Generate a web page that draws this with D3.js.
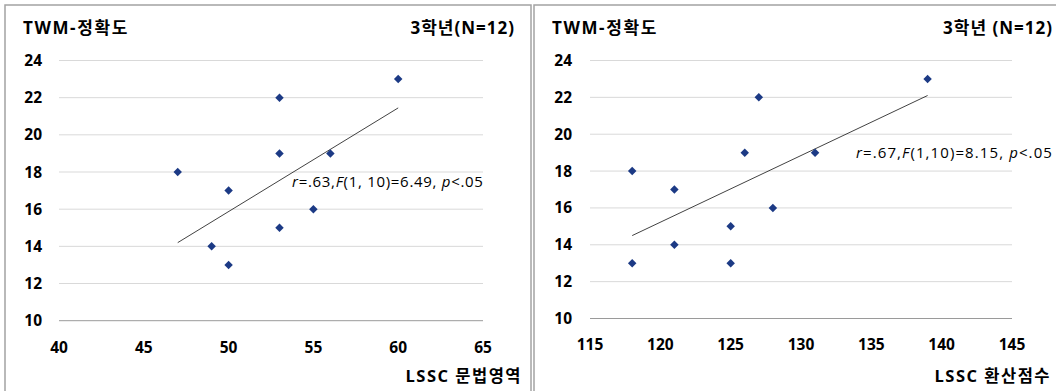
<!DOCTYPE html>
<html>
<head>
<meta charset="utf-8">
<script src="https://cdn.jsdelivr.net/npm/d3@7"></script>
<style>
  body { margin: 0; background: #fff; }
  svg { display: block; font-family: "Open Sans", "Noto Sans CJK KR", sans-serif; }
</style>
</head>
<body>
<div id="chart"></div>
<script>
// y axis (shared)
const yTicks = [10, 12, 14, 16, 18, 20, 22, 24];

// left panel: LSSC 문법영역
const grammarX = [47, 49, 50, 50, 53, 53, 53, 55, 56, 60];
const grammarY = [18, 14, 17, 13, 22, 19, 15, 16, 19, 23];
const grammarTicks = [40, 45, 50, 55, 60, 65];
const grammarTrend = [[47, 14.2], [60, 21.45]];

// right panel: LSSC 환산점수
const convX = [118, 121, 127, 126, 131, 139, 128, 125, 121, 118, 125];
const convY = [18, 17, 22, 19, 19, 23, 16, 15, 14, 13, 13];
const convTicks = [115, 120, 125, 130, 135, 140, 145];
const convTrend = [[118, 14.5], [139, 22.1]];

const width = 1056, height = 391;

const svg = d3.select("#chart")
  .append("svg")
  .attr("width", width)
  .attr("height", height);

const drawPanel = (p) => {
  const g = svg.append("g");

  // frame
  g.append("rect")
    .attr("x", p.frame[0])
    .attr("y", 5)
    .attr("width", p.frame[1] - p.frame[0])
    .attr("height", 420)
    .attr("fill", "none")
    .attr("stroke", "#a3a3a3")
    .attr("stroke-width", 1.5);

  const x = d3.scaleLinear().domain(d3.extent(p.ticks)).range(p.xRange);
  const y = d3.scaleLinear().domain([10, 24]).range(p.yRange);

  // grid
  g.selectAll(".grid")
    .data(yTicks)
    .enter()
    .append("line")
    .attr("x1", p.xRange[0])
    .attr("x2", p.xRange[1])
    .attr("y1", (d) => y(d))
    .attr("y2", (d) => y(d))
    .attr("stroke", (d) => (d === 10 ? "#9a9a9a" : "#d9d9d9"))
    .attr("stroke-width", 1);

  // y tick labels
  g.selectAll(".ylab")
    .data(yTicks)
    .enter()
    .append("text")
    .attr("x", p.yLabelX)
    .attr("y", (d) => y(d) + 5.5)
    .attr("text-anchor", "end")
    .style("font-size", "15.5px")
    .style("font-weight", "bold")
    .text((d) => d);

  // x tick labels
  g.selectAll(".xlab")
    .data(p.ticks)
    .enter()
    .append("text")
    .attr("x", (d) => x(d))
    .attr("y", p.xLabelY)
    .attr("text-anchor", "middle")
    .style("font-size", "15.5px")
    .style("font-weight", "bold")
    .text((d) => d);

  // trend line
  g.append("path")
    .datum(p.trend)
    .attr("d", d3.line().x((d) => x(d[0])).y((d) => y(d[1])))
    .attr("fill", "none")
    .attr("stroke", "#111")
    .attr("stroke-width", 0.8);

  // points
  const diamond = d3.symbol().type(d3.symbolSquare).size(36);
  g.selectAll(".pt")
    .data(p.xs.map((v, i) => [v, p.ys[i]]))
    .enter()
    .append("path")
    .attr("d", diamond)
    .attr("transform", (d) => `translate(${x(d[0])},${y(d[1])}) rotate(45)`)
    .attr("fill", "#1c3a85");

  // titles
  g.append("text")
    .attr("x", p.frame[0] + 18)
    .attr("y", 34)
    .style("font-size", "17px")
    .style("letter-spacing", "1.6px")
    .style("font-weight", "bold")
    .text("TWM-정확도");

  g.append("text")
    .attr("x", p.titleRightX)
    .attr("y", 34)
    .attr("text-anchor", "end")
    .style("font-size", "17px")
    .style("letter-spacing", "1px")
    .style("font-weight", "bold")
    .text(p.grade);

  g.append("text")
    .attr("x", p.titleRightX + p.axisTitleShift)
    .attr("y", 382)
    .attr("text-anchor", "end")
    .style("font-size", "16.5px")
    .style("letter-spacing", "1.5px")
    .style("font-weight", "bold")
    .text(p.xTitle);

  // stats annotation
  const t = g.append("text")
    .attr("x", p.statPos[0])
    .attr("y", p.statPos[1])
    .style("font-size", "15px")
    .style("letter-spacing", p.statSpacing);
  p.stat.forEach(([s, it]) => {
    t.append("tspan").style("font-style", it ? "italic" : "normal").text(s);
  });
};

drawPanel({
  frame: [5, 531],
  xs: grammarX, ys: grammarY, ticks: grammarTicks, trend: grammarTrend,
  xRange: [59, 483], yRange: [320.7, 60.5],
  yLabelX: 42, xLabelY: 353,
  titleRightX: 515, axisTitleShift: 7,
  grade: "3학년(N=12)",
  xTitle: "LSSC 문법영역",
  statPos: [292, 187], statSpacing: "0.7px",
  stat: [["r", 1], ["=.63,", 0], ["F", 1], ["(1, 10)=6.49, ", 0], ["p", 1], ["<.05", 0]]
});

drawPanel({
  frame: [534, 1070],
  xs: convX, ys: convY, ticks: convTicks, trend: convTrend,
  xRange: [590, 1012], yRange: [318.5, 60.5],
  yLabelX: 572, xLabelY: 350,
  titleRightX: 1053, axisTitleShift: -2,
  grade: "3학년 (N=12)",
  xTitle: "LSSC 환산점수",
  statPos: [856, 158], statSpacing: "1.1px",
  stat: [["r", 1], ["=.67,", 0], ["F", 1], ["(1,10)=8.15, ", 0], ["p", 1], ["<.05", 0]]
});
</script>
</body>
</html>
